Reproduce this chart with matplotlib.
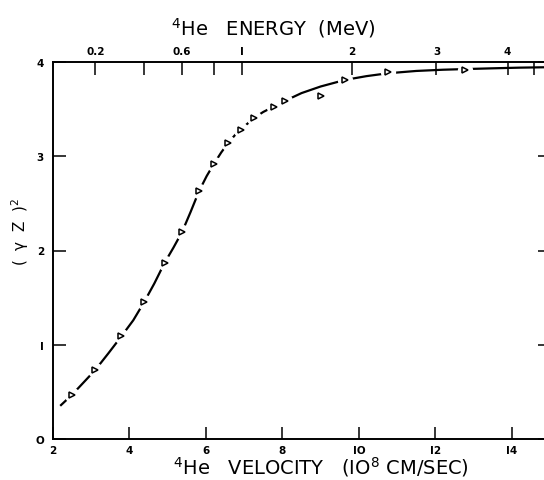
import numpy as np
import matplotlib
matplotlib.use("Agg")
import matplotlib.pyplot as plt

# measured points: 4He velocity (1e8 cm/s) vs (gamma Z)^2
vel_pts = [2.50, 3.10, 3.79, 4.38, 4.92, 5.38, 5.82, 6.21, 6.58, 6.92,
           7.27, 7.79, 8.08, 9.02, 9.64, 10.75, 12.78]
gz2_pts = [0.47, 0.73, 1.09, 1.45, 1.87, 2.20, 2.63, 2.92, 3.14, 3.28,
           3.41, 3.52, 3.59, 3.64, 3.81, 3.89, 3.92]

# smooth curve
vel_curve = [2.21, 2.50, 2.80, 3.10, 3.45, 3.79, 4.10, 4.38, 4.65, 4.92,
             5.15, 5.38, 5.60, 5.82, 6.02, 6.21, 6.40, 6.58, 6.75, 6.92,
             7.10, 7.27, 7.50, 7.79, 8.08, 8.50, 9.00, 9.64, 10.20, 10.75,
             11.50, 12.20, 12.78, 13.50, 14.20, 15.00]
gz2_curve = [0.36, 0.47, 0.60, 0.73, 0.91, 1.09, 1.26, 1.45, 1.65, 1.87,
             2.03, 2.20, 2.41, 2.63, 2.79, 2.92, 3.04, 3.14, 3.22, 3.29,
             3.35, 3.41, 3.47, 3.53, 3.59, 3.67, 3.74, 3.81, 3.85, 3.88,
             3.905, 3.918, 3.925, 3.933, 3.94, 3.945]

# top axis: energy ticks (MeV)
energy_major = [0.2, 0.6, 1, 2, 3, 4]
energy_labels = ["0.2", "0.6", "I", "2", "3", "4"]
energy_minor = [0.4, 0.8, 4.4]

K = 0.02073  # E[MeV] = K * v^2, v in 1e8 cm/s (alpha particle)


def e_to_v(e):
    return np.sqrt(np.asarray(e, dtype=float) / K)


fig = plt.figure(figsize=(5.44, 4.81), dpi=100)
ax = fig.add_axes([53 / 544, 41 / 481, 497 / 544, 377 / 481])

ax.plot(vel_curve, gz2_curve, color="black", lw=1.6, zorder=2)
# white halo -> gaps in the line around each marker
ax.plot(vel_pts, gz2_pts, ls="none", marker="o", ms=11, mfc="white",
        mec="none", zorder=3)
ax.plot(vel_pts, gz2_pts, ls="none", marker=">", ms=5, mfc="white",
        mec="black", mew=1.1, zorder=4)

ax.set_xlim(2, 15)
ax.set_ylim(0, 4)
ax.set_xticks([2, 4, 6, 8, 10, 12, 14])
ax.set_xticklabels(["2", "4", "6", "8", "IO", "I2", "I4"])
ax.set_yticks([0, 1, 2, 3, 4])
ax.set_yticklabels(["O", "I", "2", "3", "4"])
ax.tick_params(direction="in", length=9, width=1.1, labelsize=7.5,
               right=True, top=False)
ax.tick_params(axis="x", pad=4.5)
ax.tick_params(axis="y", pad=6.5)
for lab in ax.get_xticklabels() + ax.get_yticklabels():
    lab.set_fontweight("bold")
for s in ax.spines.values():
    s.set_linewidth(1.2)

top = ax.twiny()
top.set_xlim(ax.get_xlim())
top.set_xticks(e_to_v(energy_major))
top.set_xticklabels(energy_labels, fontweight="bold")
top.set_xticks(e_to_v(energy_minor), minor=True)
top.tick_params(which="both", direction="in", length=9, width=1.1,
                labelsize=7.5, pad=4.5)
for s in top.spines.values():
    s.set_linewidth(1.2)

fig.text(273 / 544, 1 - 35 / 481, r"$^{4}$He   ENERGY  (MeV)",
         ha="center", va="baseline", fontsize=14)
fig.text(321 / 544, 1 - 474 / 481,
         r"$^{4}$He   VELOCITY   (IO$^{8}$ CM/SEC)",
         ha="center", va="baseline", fontsize=14)
fig.text(20 / 544, 1 - 232 / 481, "(  γ  Z  )$^{2}$", rotation=90,
         ha="center", va="center", fontsize=11)

fig.savefig("out.png", dpi=100)
